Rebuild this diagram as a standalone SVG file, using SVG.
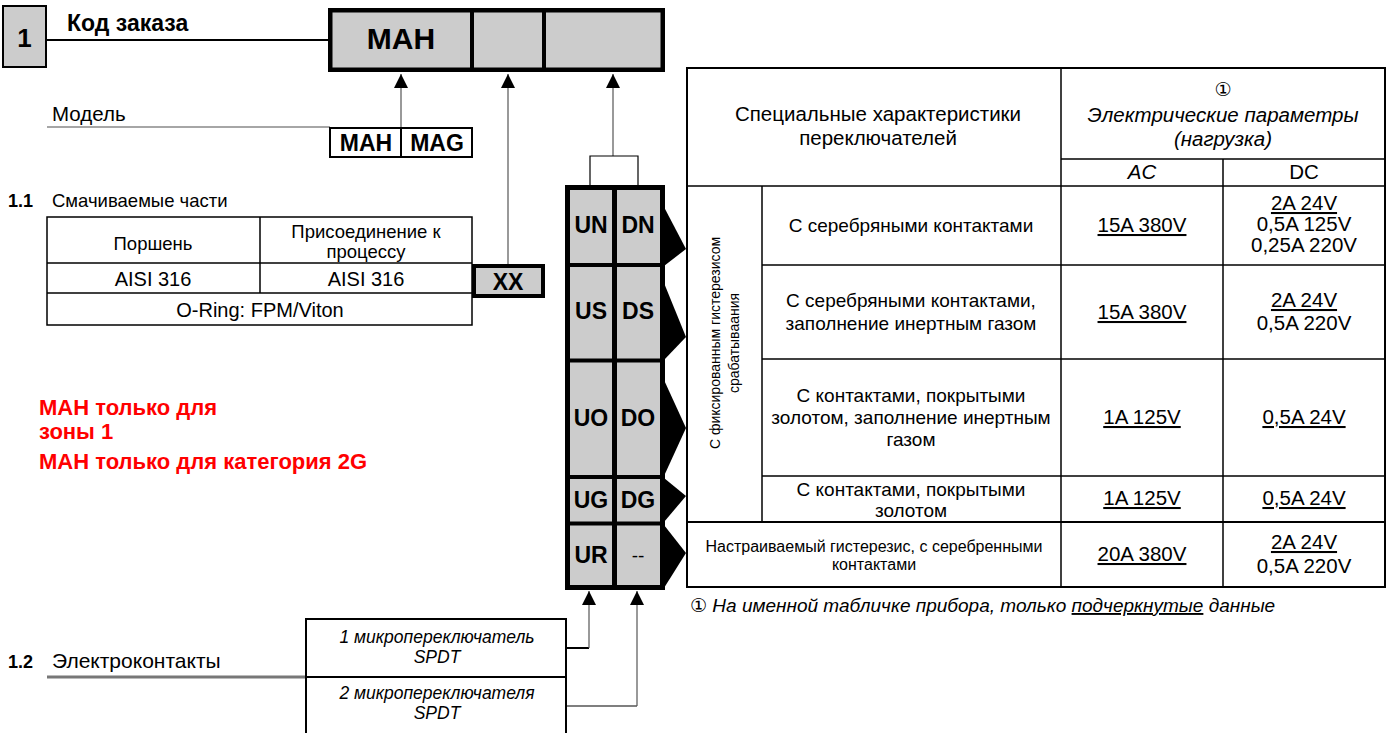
<svg xmlns="http://www.w3.org/2000/svg" width="1387" height="733" viewBox="0 0 1387 733">
<defs>
<style>
text{font-family:"Liberation Sans",Arial,"DejaVu Sans",sans-serif;fill:#000}
.b{font-weight:bold}
.i{font-style:italic}
.c{text-anchor:middle}
.u{text-decoration:underline}
.red{fill:#ff0000;font-weight:bold;font-size:22px}
.gray{fill:#cccccc}
.cell{fill:#fff;stroke:#000;stroke-width:1.5}
.thin{stroke:#000;stroke-width:1.5;fill:none}
.conn{stroke:#555;stroke-width:1.2;fill:none}
.blk{stroke:#000;fill:none}
.tb{font-size:19px}
.val{font-size:20.5px}
.hd{font-size:20.5px}
</style>
<marker id="ah" viewBox="0 0 14 14" refX="14" refY="7" markerWidth="14" markerHeight="14" markerUnits="userSpaceOnUse" orient="auto">
<path d="M0,0 L14,7 L0,14 z" fill="#000"/>
</marker>
</defs>

<g id="connectors">
<line x1="47" y1="40" x2="330" y2="40" stroke="#000" stroke-width="2"/>
<line x1="47" y1="127" x2="330" y2="127" stroke="#888" stroke-width="1.5"/>
<line x1="47" y1="677" x2="306" y2="677" stroke="#777" stroke-width="3"/>
<line class="conn" x1="401" y1="127" x2="401" y2="74" marker-end="url(#ah)"/>
<line class="conn" x1="508" y1="264" x2="508" y2="74" marker-end="url(#ah)"/>
<line class="conn" x1="613" y1="156" x2="613" y2="74" marker-end="url(#ah)"/>
<polyline class="blk" stroke-width="1.2" points="590,185 590,156 638,156 638,185"/>
<polyline class="blk" stroke-width="2" points="566,648 589,648"/>
<line class="conn" x1="589" y1="648" x2="589" y2="591" marker-end="url(#ah)"/>
<polyline class="blk" stroke-width="1.2" points="566,706 637,706"/>
<line class="conn" x1="637" y1="706" x2="637" y2="591" stroke="#999" marker-end="url(#ah)"/>
</g>

<g id="n-1">
<rect x="3" y="6" width="43" height="61" class="gray" stroke="#000" stroke-width="2"/>
<text x="24.5" y="47" class="b c" font-size="26">1</text>
<text x="67" y="31" class="b" font-size="23">Код заказа</text>
</g>

<g id="n-code">
<rect x="330.25" y="10.25" width="332.5" height="59.5" class="gray" stroke="#000" stroke-width="4.5"/>
<line x1="472" y1="8" x2="472" y2="72" stroke="#000" stroke-width="4"/>
<line x1="544" y1="8" x2="544" y2="72" stroke="#000" stroke-width="4"/>
<text x="401" y="49" class="b c" font-size="30">MAH</text>
</g>

<g id="n-model">
<text x="52" y="121" font-size="20.5">Модель</text>
<rect x="330" y="128" width="142" height="29" fill="#fff" stroke="#000" stroke-width="2"/>
<line x1="401" y1="128" x2="401" y2="157" stroke="#000" stroke-width="2"/>
<text x="366" y="151" class="b c" font-size="23">MAH</text>
<text x="437" y="151" class="b c" font-size="23">MAG</text>
</g>

<g id="n-wetted">
<text x="8" y="207" class="b" font-size="18">1.1</text>
<text x="52" y="207" font-size="18.5">Смачиваемые части</text>
<rect x="47" y="217" width="425" height="108" class="cell"/>
<line class="thin" x1="47" y1="263" x2="472" y2="263"/>
<line class="thin" x1="47" y1="293" x2="472" y2="293"/>
<line class="thin" x1="260" y1="217" x2="260" y2="293"/>
<text x="153" y="250" class="c" font-size="18.5">Поршень</text>
<text x="366" y="238" class="c" font-size="18.5">Присоединение к</text>
<text x="366" y="258" class="c" font-size="18.5">процессу</text>
<text x="153" y="286" class="c" font-size="20">AISI 316</text>
<text x="366" y="286" class="c" font-size="20">AISI 316</text>
<text x="260" y="317" class="c" font-size="20">O-Ring: FPM/Viton</text>
</g>

<g id="n-xx">
<rect x="474" y="266" width="69" height="30" class="gray" stroke="#000" stroke-width="4"/>
<text x="508" y="290" class="b c" font-size="23">XX</text>
</g>

<g id="n-note">
<text x="39" y="415" class="red">MAH только для</text>
<text x="39" y="439" class="red">зоны 1</text>
<text x="39" y="469" class="red">MAH только для категория 2G</text>
</g>

<g id="n-switch">
<rect x="567.5" y="187.5" width="95" height="400" class="gray" stroke="#000" stroke-width="5"/>
<line x1="614.5" y1="187" x2="614.5" y2="588" stroke="#000" stroke-width="5"/>
<line x1="566" y1="265" x2="664" y2="265" stroke="#000" stroke-width="4"/>
<line x1="566" y1="360.5" x2="664" y2="360.5" stroke="#000" stroke-width="4"/>
<line x1="566" y1="477" x2="664" y2="477" stroke="#000" stroke-width="4"/>
<line x1="566" y1="523.5" x2="664" y2="523.5" stroke="#000" stroke-width="4"/>
<g class="b" font-size="23">
<text x="591" y="233" class="c">UN</text><text x="638" y="233" class="c">DN</text>
<text x="591" y="319" class="c">US</text><text x="638" y="319" class="c">DS</text>
<text x="591" y="426" class="c">UO</text><text x="638" y="426" class="c">DO</text>
<text x="591" y="508" class="c">UG</text><text x="638" y="508" class="c">DG</text>
<text x="591" y="563" class="c">UR</text>
</g>
<text x="638" y="562" class="c" font-size="19">--</text>
<g fill="#000">
<polygon points="664,207 686,249 664,266"/>
<polygon points="664,283 686,337 664,360"/>
<polygon points="664,380 686,428 664,476"/>
<polygon points="664,478 686,496 664,522"/>
<polygon points="664,525 686,553 664,588"/>
</g>
</g>

<g id="n-table">
<rect x="687" y="68" width="698" height="519" fill="#fff" stroke="#000" stroke-width="2"/>
<line class="thin" x1="1061" y1="68" x2="1061" y2="587"/>
<line class="thin" x1="1061" y1="159" x2="1385" y2="159"/>
<line class="thin" x1="1223" y1="159" x2="1223" y2="587"/>
<line class="thin" x1="687" y1="186" x2="1385" y2="186"/>
<line class="thin" x1="762" y1="186" x2="762" y2="522"/>
<line class="thin" x1="762" y1="265" x2="1385" y2="265"/>
<line class="thin" x1="762" y1="359" x2="1385" y2="359"/>
<line class="thin" x1="762" y1="476" x2="1385" y2="476"/>
<line x1="687" y1="522" x2="1385" y2="522" stroke="#000" stroke-width="2"/>
<g class="hd">
<text x="878" y="121" class="c">Специальные характеристики</text>
<text x="878" y="145" class="c">переключателей</text>
<text x="1223" y="96" class="c" font-size="19">①</text>
<text x="1223" y="122" class="c i">Электрические параметры</text>
<text x="1223" y="146" class="c i">(нагрузка)</text>
<text x="1142" y="179" class="c i">AC</text>
<text x="1304" y="179" class="c">DC</text>
</g>
<g class="tb">
<text x="911" y="232" class="c">С серебряными контактами</text>
<text x="911" y="307" class="c">С серебряными контактами,</text>
<text x="911" y="330" class="c">заполнение инертным газом</text>
<text x="911" y="402" class="c">С контактами, покрытыми</text>
<text x="911" y="424" class="c">золотом, заполнение инертным</text>
<text x="911" y="446" class="c">газом</text>
<text x="911" y="496" class="c">С контактами, покрытыми</text>
<text x="911" y="517" class="c">золотом</text>
</g>
<g class="val">
<text x="1142" y="232" class="c u">15A 380V</text>
<text x="1304" y="210" class="c u">2A 24V</text>
<text x="1304" y="231" class="c">0,5A 125V</text>
<text x="1304" y="252" class="c">0,25A 220V</text>
<text x="1142" y="319" class="c u">15A 380V</text>
<text x="1304" y="307" class="c u">2A 24V</text>
<text x="1304" y="330" class="c">0,5A 220V</text>
<text x="1142" y="424" class="c u">1A 125V</text>
<text x="1304" y="424" class="c u">0,5A 24V</text>
<text x="1142" y="505" class="c u">1A 125V</text>
<text x="1304" y="505" class="c u">0,5A 24V</text>
<text x="1142" y="561" class="c u">20A 380V</text>
<text x="1304" y="549" class="c u">2A 24V</text>
<text x="1304" y="573" class="c">0,5A 220V</text>
</g>
<text x="874" y="552" class="c" font-size="16">Настраиваемый гистерезис, с серебренными</text>
<text x="874" y="570" class="c" font-size="16">контактами</text>
<g transform="translate(724,343) rotate(-90)">
<text x="0" y="-4" class="c" font-size="14">С фиксированным гистерезисом</text>
<text x="0" y="15" class="c" font-size="14">срабатываания</text>
</g>
<text x="690" y="612" class="i" font-size="19">① На именной табличке прибора, только <tspan class="u">подчеркнутые</tspan> данные</text>
</g>

<g id="n-contacts">
<text x="8" y="668" class="b" font-size="18">1.2</text>
<text x="52" y="668" font-size="21">Электроконтакты</text>
<rect x="306" y="619" width="260" height="120" fill="#fff" stroke="#000" stroke-width="2"/>
<line x1="306" y1="677" x2="566" y2="677" stroke="#000" stroke-width="2"/>
<text x="437" y="643" class="c i" font-size="17.5">1 микропереключатель</text>
<text x="437" y="663" class="c i" font-size="17.5">SPDT</text>
<text x="437" y="699" class="c i" font-size="17.5">2 микропереключателя</text>
<text x="437" y="719" class="c i" font-size="17.5">SPDT</text>
</g>
</svg>
